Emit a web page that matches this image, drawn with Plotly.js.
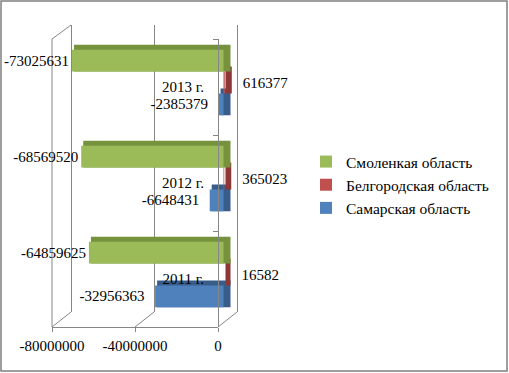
<!DOCTYPE html>
<html>
<head>
<meta charset="utf-8">
<script src="https://cdn.plot.ly/plotly-3.0.1.min.js"></script>
<style>html,body{margin:0;padding:0;background:#fff;}#chart{width:509px;height:373px;}</style>
</head>
<body>
<div id="chart"></div>
<script>
// ---- data ----
const years = ['2011 г.', '2012 г.', '2013 г.'];
const samara = [-32956363, -6648431, -2385379];
const belgorod = [16582, 365023, 616377];
const smolensk = [-64859625, -68569520, -73025631];
const seriesNames = ['Самарская область', 'Белгородская область', 'Смоленкая область'];
const xTickVals = [-80000000, -40000000, 0];
const xTickText = ['-80000000', '-40000000', '0'];

// ---- geometry helpers (pixel -> paper) ----
const W = 509, H = 373, SPAN = 80000000;
function xDom(p0, p1, lo, hi) {
  const k = (p1 - p0) / SPAN;
  return [(p0 + (lo + SPAN) * k) / W, (p1 + hi * k) / W];
}
function yDom(top, bottom) { return [1 - bottom / H, 1 - top / H]; }
function px(x) { return x / W; }
function py(y) { return 1 - y / H; }

const font = {family: '"Liberation Serif", "Times New Roman", serif', size: 15, color: '#000'};
const gridCol = '#868686';
const frontCols = ['#4F81BD', '#C0504D', '#9BBB59'];
const shadowCols = ['#385D8A', '#8C3836', '#76923C'];
const series = [samara, belgorod, smolensk];
const padText = ['\u00a0\u00a0', '', ''];
const padTextPre = ['', '\u00a0\u00a0\u00a0\u00a0', ''];

const barLo = -82000000, barHi = 4000000;
const traces = [];
// back wall helper (grid)
traces.push({type: 'scatter', mode: 'none', x: smolensk, y: years, xaxis: 'x', yaxis: 'y', showlegend: false, hoverinfo: 'skip'});
// extrusion (depth) copies
series.forEach((vals, i) => {
  traces.push({
    type: 'bar', orientation: 'h', x: vals, y: years, xaxis: 'x2', yaxis: 'y2',
    marker: {color: shadowCols[i], line: {color: shadowCols[i], width: 5}},
    showlegend: false, hoverinfo: 'skip'
  });
});
// front faces
series.forEach((vals, i) => {
  traces.push({
    type: 'bar', orientation: 'h', x: vals, y: years, xaxis: 'x3', yaxis: 'y3',
    name: seriesNames[i], legendgroup: 'g' + i,
    marker: {color: frontCols[i], line: {width: 0}},
    text: vals.map(v => padTextPre[i] + String(v) + padText[i]),
    textposition: 'outside', textfont: font, cliponaxis: false, constraintext: 'none',
    hoverinfo: 'skip'
  });
});
// front plane axes helper
traces.push({type: 'scatter', mode: 'none', x: samara, y: years, xaxis: 'x4', yaxis: 'y4', showlegend: false, hoverinfo: 'skip'});

const hidden = {visible: false, fixedrange: true};
const layout = {
  width: W, height: H,
  margin: {l: 0, r: 0, t: 0, b: 0, pad: 0},
  paper_bgcolor: '#fff', plot_bgcolor: 'rgba(0,0,0,0)',
  font: font,
  barmode: 'group', bargap: 0.32, bargroupgap: 0,
  hovermode: false,
  showlegend: true,
  legend: {
    x: px(306), y: py(145), xanchor: 'left', yanchor: 'top',
    traceorder: 'reversed', tracegroupgap: 3,
    font: {family: font.family, size: 15.5, color: '#000'},
    bgcolor: 'rgba(0,0,0,0)'
  },
  // back wall with gridlines
  xaxis: {anchor: 'y', domain: xDom(71, 237, -81000000, 1000000), range: [-81000000, 1000000],
    tickvals: xTickVals, showticklabels: false, ticks: '', showgrid: true, gridcolor: gridCol, gridwidth: 1,
    zeroline: false, showline: false, fixedrange: true},
  yaxis: Object.assign({anchor: 'x', domain: yDom(25, 312), range: [-0.5, 2.5], type: 'category'}, hidden),
  // depth copies
  xaxis2: Object.assign({anchor: 'y2', domain: xDom(62, 228, barLo, barHi), range: [barLo, barHi]}, hidden),
  yaxis2: Object.assign({anchor: 'x2', domain: yDom(32, 320), range: [-0.5, 2.5], type: 'category'}, hidden),
  // front faces
  xaxis3: Object.assign({anchor: 'y3', domain: xDom(57.5, 223.5, barLo, barHi), range: [barLo, barHi]}, hidden),
  yaxis3: Object.assign({anchor: 'x3', domain: yDom(34.5, 322.5), range: [-0.5, 2.5], type: 'category'}, hidden),
  // front plane axes
  xaxis4: {anchor: 'y4', domain: xDom(52, 218, -80000000, 0), range: [-80000000, 0],
    tickvals: xTickVals, ticktext: xTickText, ticks: 'outside', ticklen: 4, tickcolor: gridCol,
    showline: true, linecolor: gridCol, linewidth: 1, showgrid: false, zeroline: false,
    tickfont: font, ticklabelstandoff: 1, fixedrange: true},
  yaxis4: {anchor: 'free', position: px(218), side: 'left', domain: yDom(39, 327), range: [-0.5, 2.5],
    type: 'category', categoryorder: 'array', categoryarray: years,
    ticks: 'outside', tickson: 'boundaries', ticklen: 5, tickcolor: gridCol,
    showline: true, linecolor: gridCol, linewidth: 1, showgrid: false, zeroline: false,
    tickfont: font, ticklabelstandoff: 11, fixedrange: true},
  shapes: [
    {type: 'line', xref: 'paper', yref: 'paper', x0: px(52), y0: py(39), x1: px(52), y1: py(327), line: {color: gridCol, width: 1}, layer: 'below'},
    {type: 'line', xref: 'paper', yref: 'paper', x0: px(52), y0: py(39), x1: px(71), y1: py(25), line: {color: gridCol, width: 1}, layer: 'below'},
    {type: 'line', xref: 'paper', yref: 'paper', x0: px(52), y0: py(327), x1: px(71), y1: py(312), line: {color: gridCol, width: 1}, layer: 'below'},
    {type: 'line', xref: 'paper', yref: 'paper', x0: px(135), y0: py(327), x1: px(154), y1: py(312), line: {color: gridCol, width: 1}, layer: 'below'},
    {type: 'line', xref: 'paper', yref: 'paper', x0: px(218), y0: py(327), x1: px(237), y1: py(312), line: {color: gridCol, width: 1}, layer: 'below'},
    {type: 'rect', xref: 'paper', yref: 'paper', x0: px(1), y0: py(1), x1: px(507), y1: py(371), line: {color: '#7f7f7f', width: 1.5}, fillcolor: 'rgba(0,0,0,0)', layer: 'below'}
  ]
};
Plotly.newPlot('chart', traces, layout, {displayModeBar: false, staticPlot: true});
</script>
</body>
</html>
